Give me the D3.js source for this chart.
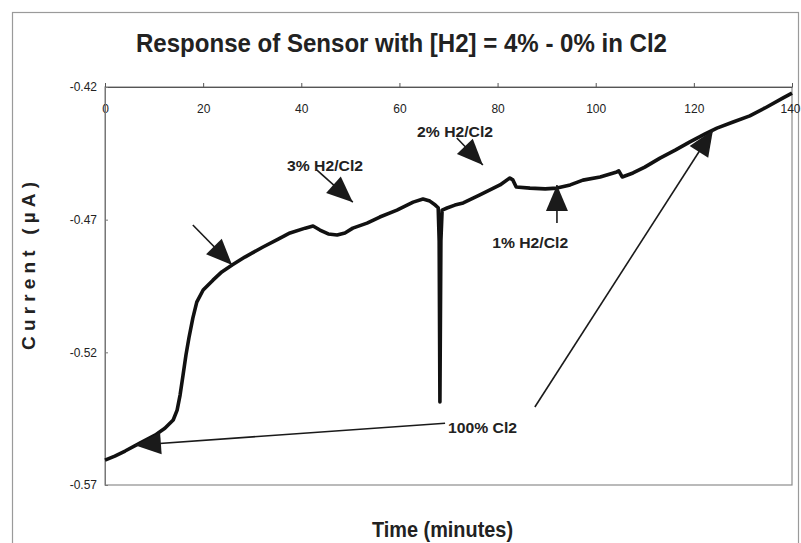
<!DOCTYPE html>
<html>
<head>
<meta charset="utf-8">
<script src="https://cdn.jsdelivr.net/npm/d3@7"></script>
<style>
  body { margin: 0; background: #fff; }
  text { fill: #222; }
</style>
</head>
<body>
<svg id="chart" width="801" height="543"></svg>
<script>
// -------- data --------
const times = [0, 2.0, 4.1, 7.1, 10.2, 12.2, 13.9, 14.7, 15.3, 15.9, 16.5, 17.1, 17.9, 18.7,
  20.0, 22.0, 23.8, 25.9, 28.5, 32.2, 35.3, 37.7, 40.8, 42.4, 43.8, 45.5, 47.3, 48.9, 50.5,
  53.4, 56.0, 59.5, 62.8, 64.8, 66.2, 67.3, 67.9, 68.1, 68.25, 68.45, 68.7, 69.7, 71.3, 73.0,
  76.4, 80.5, 82.5, 83.1, 83.8, 86.6, 89.7, 92.1, 94.8, 97.4, 100.9, 104.3, 104.7, 105.4,
  107.6, 110.0, 113.1, 116.2, 119.2, 122.3, 124.7, 128.0, 131.4, 134.5, 138.2, 140.0];
const currents = [-0.5606, -0.5591, -0.5572, -0.5542, -0.5512, -0.5486, -0.5455, -0.5418,
  -0.5361, -0.5286, -0.5210, -0.5146, -0.5071, -0.5011, -0.4965, -0.4928, -0.4897, -0.4871,
  -0.4841, -0.4803, -0.4773, -0.4750, -0.4732, -0.4724, -0.4739, -0.4754, -0.4758, -0.4750,
  -0.4732, -0.4713, -0.4690, -0.4664, -0.4634, -0.4622, -0.4630, -0.4645, -0.4655, -0.4780,
  -0.5387, -0.4780, -0.4664, -0.4656, -0.4645, -0.4637, -0.4607, -0.4569, -0.4543, -0.4550,
  -0.4577, -0.4581, -0.4584, -0.4581, -0.4569, -0.4551, -0.4539, -0.4520, -0.4516, -0.4539,
  -0.4524, -0.4502, -0.4468, -0.4438, -0.4407, -0.4377, -0.4355, -0.4332, -0.4309, -0.4279,
  -0.4241, -0.4223];

const xTicks = [0, 20, 40, 60, 80, 100, 120, 140];
const yTicks = [-0.42, -0.47, -0.52, -0.57];

// annotation arrows: start point -> arrow tip, in (minutes, current)
const arrowFrom = [[17.9, -0.4720], [43.2, -0.4513], [71.7, -0.4392], [92.1, -0.4713],
  [69.3, -0.5467], [87.6, -0.5406]];
const arrowTo = [[25.9, -0.4871], [50.5, -0.4634], [77.0, -0.4494], [92.1, -0.4569],
  [6.1, -0.5550], [123.9, -0.4362]];

// annotation labels, anchored at their left baseline
const labelText = ["3% H2/Cl2", "2% H2/Cl2", "1% H2/Cl2", "100% Cl2"];
const labelPos = [[37.1, -0.4517], [63.6, -0.4388], [78.9, -0.4807], [69.9, -0.5504]];
const labelWidth = [76, 76, 76, 69];

// -------- setup --------
const svg = d3.select("#chart"),
  width = +svg.attr("width"),
  height = +svg.attr("height");

const plot = { left: 105, top: 87, right: 792, bottom: 485 };

const x = d3.scaleLinear().domain([0, 140]).range([plot.left, plot.right]);
const y = d3.scaleLinear().domain([-0.57, -0.42]).range([plot.bottom, plot.top]);

const narrow = '"Liberation Sans Narrow", "Arial Narrow", "Liberation Sans", Arial, sans-serif';

// outer chart frame
svg.append("rect")
  .attr("x", 12.5).attr("y", 12.5)
  .attr("width", 786).attr("height", 560)
  .attr("fill", "#fff").attr("stroke", "#9a9a9a").attr("stroke-width", 1.2);

// title
svg.append("text")
  .attr("x", 136).attr("y", 52)
  .attr("textLength", 531).attr("lengthAdjust", "spacingAndGlyphs")
  .style("font-family", narrow).style("font-weight", "bold").style("font-size", "26px")
  .text("Response of Sensor with [H2] = 4% - 0% in Cl2");

// plot area border (bottom / right)
svg.append("rect")
  .attr("x", plot.left).attr("y", plot.top)
  .attr("width", plot.right - plot.left).attr("height", plot.bottom - plot.top)
  .attr("fill", "none").attr("stroke", "#8c8c8c").attr("stroke-width", 1.2);

// x axis sits on top (crosses at y = -0.42)
const xAxis = svg.append("g")
  .attr("transform", `translate(0,${plot.top})`)
  .call(d3.axisBottom(x).tickValues(xTicks).tickSizeInner(-4).tickSizeOuter(0).tickPadding(17));
xAxis.select(".domain").attr("stroke", "#555");
xAxis.selectAll(".tick line").attr("stroke", "#555");
xAxis.selectAll("text")
  .style("font-family", '"Liberation Sans", Arial, sans-serif').style("font-size", "12px")
  .attr("fill", "#222");
// last label is half hidden at the right edge in the original; nudge so it stays inside
xAxis.selectAll(".tick text").filter(d => d === 140).attr("dx", "-2px");

// y axis
const yAxis = svg.append("g")
  .attr("transform", `translate(${plot.left},0)`)
  .call(d3.axisLeft(y).tickValues(yTicks).tickSizeInner(-3).tickSizeOuter(0).tickPadding(8)
    .tickFormat(d => d.toFixed(2)));
yAxis.select(".domain").attr("stroke", "#777");
yAxis.selectAll(".tick line").attr("stroke", "#777");
yAxis.selectAll("text")
  .style("font-family", '"Liberation Sans", Arial, sans-serif').style("font-size", "12px")
  .attr("fill", "#222");

// axis titles
svg.append("text")
  .attr("transform", "translate(35,266) rotate(-90)")
  .attr("text-anchor", "middle")
  .attr("textLength", 168).attr("lengthAdjust", "spacing")
  .style("font-family", '"Liberation Sans", Arial, sans-serif').style("font-weight", "bold")
  .style("font-size", "19px")
  .text("Current (µA)");

svg.append("text")
  .attr("x", 372).attr("y", 537)
  .attr("textLength", 141).attr("lengthAdjust", "spacingAndGlyphs")
  .style("font-family", narrow).style("font-weight", "bold").style("font-size", "22px")
  .text("Time (minutes)");

// -------- response curve --------
const series = times.map((t, i) => [t, currents[i]]);
const line = d3.line().x(d => x(d[0])).y(d => y(d[1]));

svg.append("path")
  .datum(series)
  .attr("d", line)
  .attr("fill", "none")
  .attr("stroke", "#111")
  .attr("stroke-width", 3.6)
  .attr("stroke-linejoin", "round");

// -------- annotations --------
const arrows = arrowFrom.map((p, i) => ({
  x1: x(p[0]), y1: y(p[1]), x2: x(arrowTo[i][0]), y2: y(arrowTo[i][1])
}));

const ann = svg.append("g").attr("class", "annotations");

ann.selectAll("line")
  .data(arrows)
  .enter()
  .append("line")
  .attr("x1", d => d.x1).attr("y1", d => d.y1)
  .attr("x2", d => d.x2).attr("y2", d => d.y2)
  .attr("stroke", "#1a1a1a").attr("stroke-width", 1.6);

// triangle heads
const headLen = 26, headHalf = 11;
ann.selectAll("polygon")
  .data(arrows)
  .enter()
  .append("polygon")
  .attr("points", function (d) {
    const dx = d.x2 - d.x1, dy = d.y2 - d.y1, L = Math.hypot(dx, dy);
    const ux = dx / L, uy = dy / L;
    const bx = d.x2 - ux * headLen, by = d.y2 - uy * headLen;
    return [[d.x2, d.y2], [bx - uy * headHalf, by + ux * headHalf], [bx + uy * headHalf, by - ux * headHalf]]
      .map(p => p.join(",")).join(" ");
  })
  .attr("fill", "#1a1a1a");

ann.selectAll("text")
  .data(labelText)
  .enter()
  .append("text")
  .attr("x", (d, i) => x(labelPos[i][0]))
  .attr("y", (d, i) => y(labelPos[i][1]))
  .attr("textLength", (d, i) => labelWidth[i]).attr("lengthAdjust", "spacingAndGlyphs")
  .style("font-family", narrow).style("font-weight", "bold").style("font-size", "15px")
  .text(d => d);
</script>
</body>
</html>
